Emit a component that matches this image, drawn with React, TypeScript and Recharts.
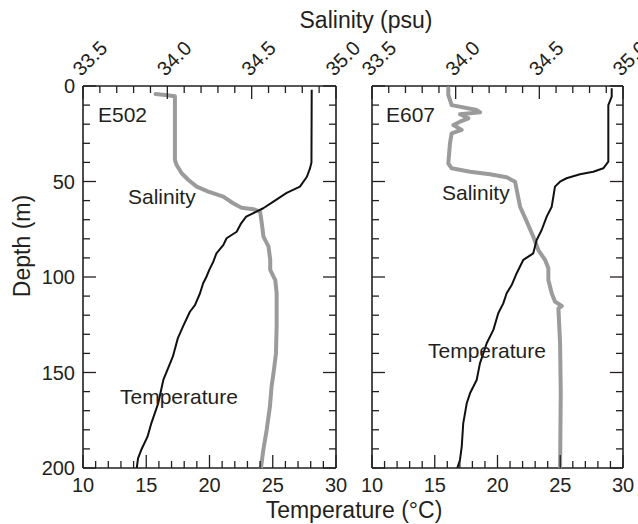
import React from 'react';
import { ComposedChart, Scatter, XAxis, YAxis } from 'recharts';

const INK = '#231f20';
const GREY = '#9b9b9b';
const FONT = '"Liberation Sans", Arial, Helvetica, sans-serif';

// axis ticks
const tempTicks = [10, 11, 12, 13, 14, 15, 16, 17, 18, 19, 20, 21, 22, 23, 24, 25, 26, 27, 28, 29, 30];
const salTicks = [33.5, 33.6, 33.7, 33.8, 33.9, 34.0, 34.1, 34.2, 34.3, 34.4, 34.5, 34.6, 34.7, 34.8, 34.9, 35.0];
const salLabels = ['33.5', '34.0', '34.5', '35.0'];
const depthTicks = [0, 10, 20, 30, 40, 50, 60, 70, 80, 90, 100, 110, 120, 130, 140, 150, 160, 170, 180, 190, 200];

// E502
const e502TempDepth = [2, 40, 43, 47.5, 52.7, 56, 60.5, 64, 65.8, 68.4, 71.9, 76.3, 79.7, 83.2, 87.6, 92, 96, 100, 103.3, 108.5, 114.7, 118.2, 126, 132, 141.7, 153.9, 166, 176.6, 183.6, 190.6, 195, 200];
const e502Temp = [28.08, 28.06, 27.95, 27.7, 27.15, 26.1, 25.05, 24.25, 23.7, 22.9, 22.5, 22.15, 21.35, 21.1, 20.55, 20.3, 20.0, 19.75, 19.5, 19.25, 18.85, 18.45, 17.9, 17.5, 17.1, 16.35, 15.95, 15.4, 15.1, 14.6, 14.35, 14.25];
const e502SalDepth = [4.2, 4.8, 5.4, 38.7, 41.4, 45.7, 49.2, 52.7, 55.3, 57.9, 61.4, 63.7, 64.5, 65.8, 71.9, 78.9, 84.1, 91, 96.3, 101.6, 108.5, 126, 140, 148.7, 157.4, 168, 180, 190.6, 200];
const e502Sal = [33.93, 34.0, 34.045, 34.045, 34.055, 34.085, 34.125, 34.174, 34.243, 34.332, 34.39, 34.44, 34.51, 34.55, 34.56, 34.57, 34.6, 34.61, 34.61, 34.64, 34.648, 34.648, 34.644, 34.632, 34.618, 34.608, 34.589, 34.569, 34.555];

// E607
const e607TempDepth = [1.2, 5.6, 10, 39.6, 43.1, 44.9, 46.2, 48.3, 50.1, 52.7, 58, 63.2, 68.4, 75.4, 80.6, 87.6, 91, 98, 104.2, 108.5, 113.8, 119, 127.7, 134.7, 145.2, 153.9, 160.9, 166.1, 176.6, 188.8, 195.8, 200];
const e607Temp = [29.1, 29.1, 28.83, 28.83, 28.43, 27.63, 26.57, 25.5, 24.98, 24.58, 24.45, 24.32, 23.92, 23.52, 23.12, 22.85, 22.06, 21.53, 21.13, 20.73, 20.46, 20.06, 19.67, 19.14, 18.6, 18.34, 17.81, 17.55, 17.27, 17.15, 17.01, 16.8];
const e607SalDepth = [1.2, 4.7, 10, 12.6, 13.8, 14.8, 16.9, 18.7, 20.4, 23, 24.8, 30, 40.5, 43.1, 44.9, 46.2, 47.8, 50.1, 56.2, 63.2, 71, 78.9, 85.9, 91, 95.4, 101.6, 108.5, 112.9, 115.2, 116.4, 134.7, 160.9, 200];
const e607Sal = [33.956, 33.956, 33.976, 34.126, 34.146, 34.026, 34.076, 34.026, 33.986, 34.036, 33.976, 33.966, 33.956, 33.976, 34.086, 34.205, 34.305, 34.355, 34.369, 34.385, 34.425, 34.464, 34.494, 34.534, 34.554, 34.554, 34.574, 34.594, 34.634, 34.614, 34.624, 34.628, 34.624];

const toTemp = (depth: number[], vals: number[]) => depth.map((d, i) => ({ d, t: vals[i] }));
const toSal = (depth: number[], vals: number[]) => depth.map((d, i) => ({ d, s: vals[i] }));

const MINOR = 7;
const MAJOR = 13;
const tickText = { fontSize: 20, fill: INK, fontFamily: FONT };

const BottomTick = (props: any) => {
  const { x, y, payload } = props;
  const v = payload.value;
  const major = v % 5 === 0;
  return (
    <g>
      <line x1={x} y1={y} x2={x} y2={y - (major ? MAJOR : MINOR)} stroke={INK} strokeWidth={1.3} />
      {major && (
        <text x={x} y={y + 24} textAnchor="middle" {...tickText}>
          {v}
        </text>
      )}
    </g>
  );
};

const TopTick = (props: any) => {
  const { x, y, payload } = props;
  const v = payload.value;
  const label = v.toFixed(1);
  const major = salLabels.includes(label);
  const ax = x - 2;
  const ay = y - 9;
  return (
    <g>
      <line x1={x} y1={y} x2={x} y2={y + (major ? MAJOR : MINOR)} stroke={INK} strokeWidth={1.3} />
      {major && (
        <text x={ax} y={ay} textAnchor="start" transform={`rotate(-45, ${ax}, ${ay})`} {...tickText}>
          {label}
        </text>
      )}
    </g>
  );
};

const makeSideTick = (dir: number, labels: boolean) => (props: any) => {
  const { x, y, payload } = props;
  const v = payload.value;
  const major = v % 50 === 0;
  return (
    <g>
      <line x1={x} y1={y} x2={x + dir * (major ? MAJOR : MINOR)} y2={y} stroke={INK} strokeWidth={1.3} />
      {labels && major && (
        <text x={x - 8} y={y + 7} textAnchor="end" {...tickText}>
          {v}
        </text>
      )}
    </g>
  );
};

const axisLine = { stroke: INK, strokeWidth: 1.6 };

const Panel = ({ margin, tempData, salData, showDepth }: any) => (
  <div style={{ position: 'absolute', left: 0, top: 0 }}>
    <ComposedChart width={638} height={524} margin={margin}>
      <XAxis
        xAxisId="s"
        orientation="top"
        type="number"
        dataKey="s"
        domain={[33.5, 35]}
        ticks={salTicks}
        interval={0}
        height={40}
        tickSize={0}
        tickMargin={0}
        tickLine={false}
        axisLine={axisLine}
        tick={TopTick}
        allowDataOverflow
      />
      <XAxis
        xAxisId="t"
        orientation="bottom"
        type="number"
        dataKey="t"
        domain={[10, 30]}
        ticks={tempTicks}
        interval={0}
        height={30}
        tickSize={0}
        tickMargin={0}
        tickLine={false}
        axisLine={axisLine}
        tick={BottomTick}
        allowDataOverflow
      />
      <YAxis
        yAxisId="d"
        orientation="left"
        type="number"
        dataKey="d"
        domain={[0, 200]}
        reversed
        ticks={depthTicks}
        interval={0}
        width={5}
        tickSize={0}
        tickMargin={0}
        tickLine={false}
        axisLine={axisLine}
        tick={makeSideTick(1, showDepth)}
        allowDataOverflow
      />
      <YAxis
        yAxisId="r"
        orientation="right"
        type="number"
        dataKey="d"
        domain={[0, 200]}
        reversed
        ticks={depthTicks}
        interval={0}
        width={5}
        tickSize={0}
        tickMargin={0}
        tickLine={false}
        axisLine={axisLine}
        tick={makeSideTick(-1, false)}
        allowDataOverflow
      />
      <Scatter
        data={salData}
        xAxisId="s"
        yAxisId="d"
        line={{ stroke: GREY, strokeWidth: 4, strokeLinejoin: 'round', strokeLinecap: 'round' }}
        shape={() => null}
        isAnimationActive={false}
      />
      <Scatter
        data={tempData}
        xAxisId="t"
        yAxisId="r"
        line={{ stroke: '#111', strokeWidth: 2, strokeLinejoin: 'round' }}
        shape={() => null}
        isAnimationActive={false}
      />
    </ComposedChart>
  </div>
);

const label = { fontSize: 21, fill: INK, fontFamily: FONT };
const title = { fontSize: 23, fill: INK, fontFamily: FONT };

export default function App() {
  return (
    <div style={{ position: 'absolute', left: 0, top: 0, width: 638, height: 524, background: '#fff', overflow: 'hidden' }}>
      <Panel
        margin={{ top: 46, bottom: 26, left: 78, right: 297 }}
        tempData={toTemp(e502TempDepth, e502Temp)}
        salData={toSal(e502SalDepth, e502Sal)}
        showDepth
      />
      <Panel
        margin={{ top: 46, bottom: 26, left: 367, right: 10 }}
        tempData={toTemp(e607TempDepth, e607Temp)}
        salData={toSal(e607SalDepth, e607Sal)}
        showDepth={false}
      />
      <svg width={638} height={524} style={{ position: 'absolute', left: 0, top: 0, pointerEvents: 'none' }}>
        <text x={366} y={28} textAnchor="middle" {...title}>Salinity (psu)</text>
        <text x={354} y={518} textAnchor="middle" {...title}>Temperature (°C)</text>
        <text x={30} y={246} textAnchor="middle" transform="rotate(-90, 30, 246)" {...title}>Depth (m)</text>
        <text x={98} y={122} {...label}>E502</text>
        <text x={128} y={204} {...label}>Salinity</text>
        <text x={120} y={404} {...label}>Temperature</text>
        <text x={386} y={122} {...label}>E607</text>
        <text x={442} y={200} {...label}>Salinity</text>
        <text x={428} y={358} {...label}>Temperature</text>
      </svg>
    </div>
  );
}
